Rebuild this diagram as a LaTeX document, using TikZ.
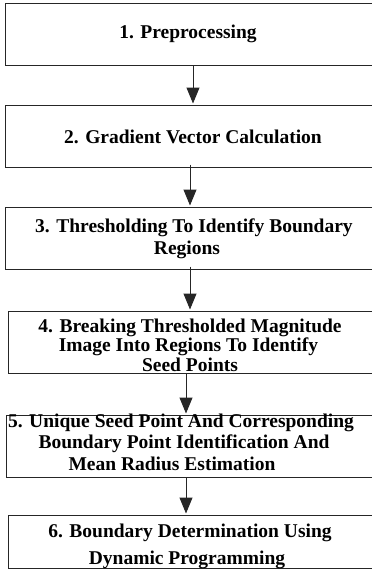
\documentclass[tikz,border=0pt]{standalone}
\usepackage{fontspec}
\setmainfont{Liberation Serif}
\usetikzlibrary{arrows.meta}
\newcommand\shiftln[2]{\hspace*{#1}#2\hspace*{-#1}}
\tikzset{
  box/.style={draw=black!85, line width=1pt, rectangle, inner sep=0pt},
  txt/.style={inner sep=0pt, align=center, font=\fontsize{19.5}{21.5}\selectfont\bfseries},
  arr/.style={draw=black!85, line width=1pt, -{Triangle[width=13pt,length=16pt]}, shorten >=1pt}
}
\begin{document}
\begin{tikzpicture}[x=1pt,y=-1pt]
\useasboundingbox (0,0) rectangle (372,579);
\clip (0,0) rectangle (372,579);
\node[box, minimum width=370, minimum height=62] (b1) at (190,34) {};
\node[box, minimum width=370, minimum height=62] (b2) at (190,136) {};
\node[box, minimum width=370, minimum height=62] (b3) at (190,238) {};
\node[box, minimum width=367, minimum height=62] (b4) at (191.5,342) {};
\node[box, minimum width=369, minimum height=62] (b5) at (190.5,446) {};
\node[box, minimum width=367, minimum height=53] (b6) at (191.5,541.5) {};
\node[txt] (t1) at (188,34) {1. Preprocessing};
\node[txt] (t2) at (193,137) {2. Gradient Vector Calculation};
\node[txt] (t3) at (191,239) {\shiftln{3pt}{3. Thresholding To Identify Boundary}\\\shiftln{-4pt}{Regions}};
\node[txt, font=\fontsize{19.5}{19.5}\selectfont\bfseries] (t4) at (190,345) {4. Breaking Thresholded Magnitude\\\shiftln{-3pt}{Image Into Regions To Identify}\\Seed Points};
\node[txt] (t5) at (182,442) {\shiftln{-1pt}{5. Unique Seed Point And Corresponding}\\\shiftln{4pt}{Boundary Point Identification And}\\\shiftln{-10pt}{Mean Radius Estimation}};
\node[txt, font=\fontsize{19.5}{27}\selectfont\bfseries] (t6) at (189,546.5) {\shiftln{1pt}{6. Boundary Determination Using}\\\shiftln{-2pt}{Dynamic Programming}};
\coordinate (a1) at (193,0);
\coordinate (a2) at (190,0);
\coordinate (a4) at (186,0);
\draw[arr] (a1 |- b1.south) -- (a1 |- b2.north);
\draw[arr] ([yshift=3pt]a2 |- b2.south) -- (a2 |- b3.north);
\draw[arr] ([yshift=3pt]a2 |- b3.south) -- (a2 |- b4.north);
\draw[arr] (a4 |- b4.south) -- (a4 |- b5.north);
\draw[arr] (a4 |- b5.south) -- (a4 |- b6.north);
\end{tikzpicture}
\end{document}
